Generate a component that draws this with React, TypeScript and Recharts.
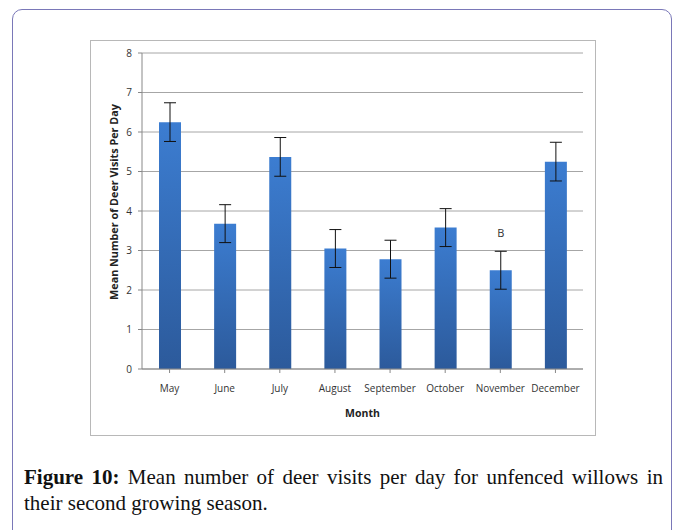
import { BarChart, Bar, XAxis, YAxis, CartesianGrid, ErrorBar, LabelList, Label } from "recharts";

const months = ["May", "June", "July", "August", "September", "October", "November", "December"];
const meanVisits = [6.25, 3.68, 5.37, 3.05, 2.78, 3.58, 2.5, 5.25];
const stdErr = [0.49, 0.48, 0.49, 0.48, 0.48, 0.48, 0.48, 0.49];
const markers = ["", "", "", "", "", "", "B", ""];
const yTicks = [0, 1, 2, 3, 4, 5, 6, 7, 8];

const data = months.map((month, i) => ({
  month,
  value: meanVisits[i],
  err: stdErr[i],
  mark: markers[i],
}));

const tickFont = { fill: "#333", fontSize: 10, fontFamily: "Open Sans, sans-serif" };

// rotated y-axis title, sits a bit above the plot centre like the original
const YTitle = () => (
  <text
    x={22}
    y={161}
    transform="rotate(-90 22 161)"
    textAnchor="middle"
    dominantBaseline="central"
    fill="#222"
    fontSize={10.8}
    fontWeight={700}
    fontFamily="Open Sans, sans-serif"
  >
    Mean Number of Deer Visits Per Day
  </text>
);

export default function App() {
  return (
    <div
      style={{
        position: "fixed",
        left: 0,
        top: 0,
        width: 678,
        height: 530,
        background: "#fff",
        overflow: "hidden",
      }}
    >
      <div
        style={{
          position: "absolute",
          left: 12,
          top: 9,
          width: 660,
          height: 540,
          border: "1.5px solid #7a78b8",
          borderRadius: 10,
          boxSizing: "border-box",
        }}
      />
      <div
        style={{
          position: "absolute",
          left: 90,
          top: 40,
          width: 506,
          height: 396,
          border: "1px solid #b8b8b8",
          boxSizing: "border-box",
        }}
      >
        <BarChart
          width={504}
          height={394}
          data={data}
          margin={{ top: 12, right: 12, left: 0, bottom: 0 }}
        >
          <defs>
            <linearGradient id="barFill" x1="0" y1="0" x2="0" y2="1">
              <stop offset="0%" stopColor="#3c7dd1" />
              <stop offset="100%" stopColor="#2c5a9b" />
            </linearGradient>
          </defs>
          <CartesianGrid stroke="#a6a6a6" vertical={false} />
          <XAxis
            dataKey="month"
            tick={tickFont}
            axisLine={{ stroke: "#888" }}
            tickLine={{ stroke: "#888" }}
            tickSize={4}
            tickMargin={12}
            interval={0}
            height={66}
          >
            <Label
              value="Month"
              position="insideBottom"
              offset={18}
              style={{ fill: "#222", fontSize: 10.5, fontWeight: 700, fontFamily: "Open Sans, sans-serif" }}
            />
          </XAxis>
          <YAxis
            domain={[0, 8]}
            ticks={yTicks}
            tick={tickFont}
            axisLine={{ stroke: "#888" }}
            tickLine={{ stroke: "#888" }}
            tickSize={4}
            tickMargin={6}
            width={51}
          >
            <Label content={<YTitle />} />
          </YAxis>
          <Bar dataKey="value" fill="url(#barFill)" barSize={22} isAnimationActive={false}>
            <ErrorBar dataKey="err" width={6} stroke="#111" strokeWidth={1} />
            <LabelList
              dataKey="mark"
              position="top"
              offset={33}
              style={{ fill: "#333", fontSize: 11, fontFamily: "Open Sans, sans-serif" }}
            />
          </Bar>
        </BarChart>
      </div>
      <div
        style={{
          position: "absolute",
          left: 24,
          top: 464,
          width: 639,
          fontFamily: "Liberation Serif, Times New Roman, serif",
          fontSize: 21,
          lineHeight: "26px",
          color: "#111",
        }}
      >
        <div style={{ textAlign: "justify", textAlignLast: "justify", whiteSpace: "nowrap" }}>
          <b>Figure 10:</b> Mean number of deer visits per day for unfenced willows in
        </div>
        <div>their second growing season.</div>
      </div>
    </div>
  );
}
